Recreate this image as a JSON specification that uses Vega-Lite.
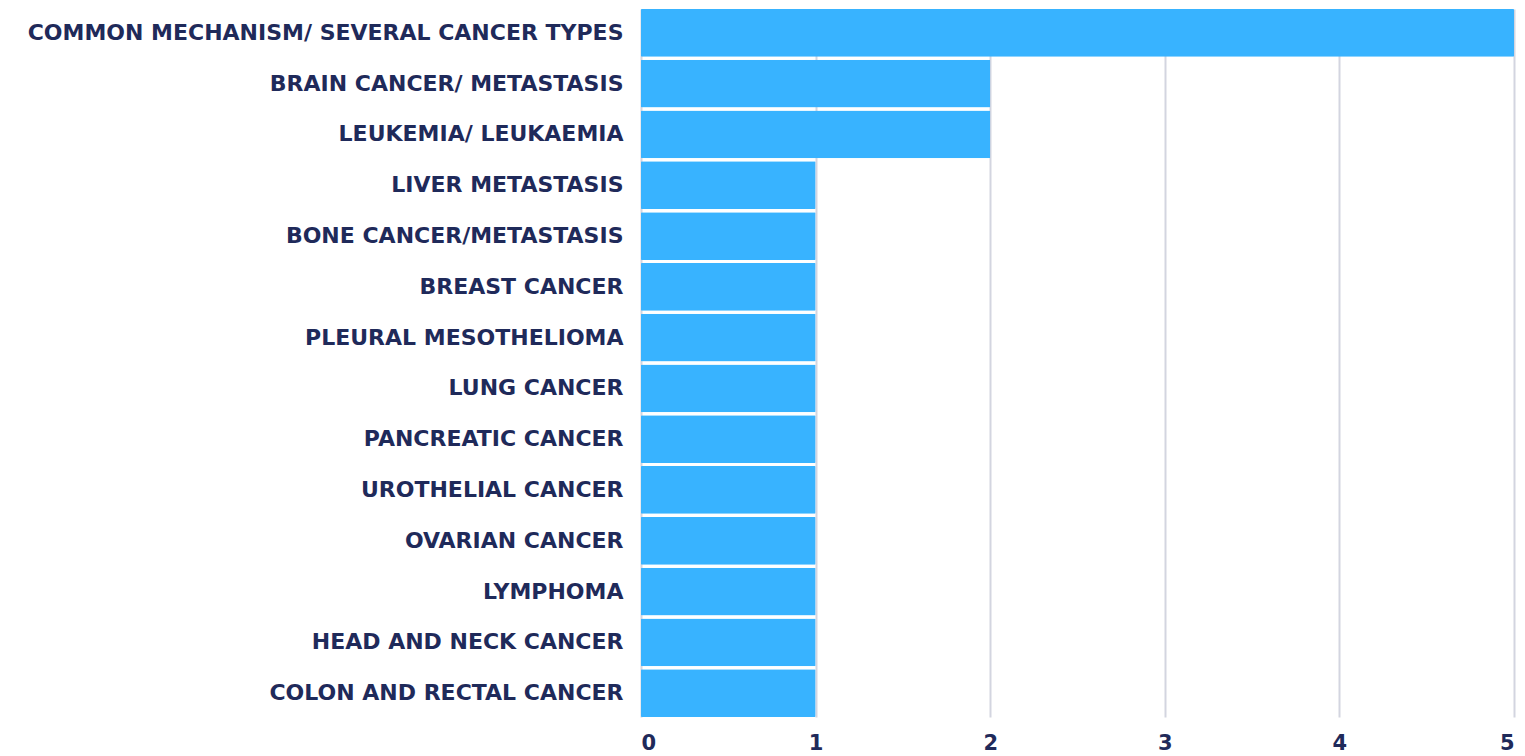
{
  "$schema": "https://vega.github.io/schema/vega-lite/v6.json",
  "width": 873,
  "height": 708,
  "autosize": {"type": "none"},
  "padding": {"left": 641, "top": 9, "right": 11, "bottom": 39},
  "background": "white",
  "data": {"values": [
    {"category": "COMMON MECHANISM/ SEVERAL CANCER TYPES", "count": 5},
    {"category": "BRAIN CANCER/ METASTASIS", "count": 2},
    {"category": "LEUKEMIA/ LEUKAEMIA", "count": 2},
    {"category": "LIVER METASTASIS", "count": 1},
    {"category": "BONE CANCER/METASTASIS", "count": 1},
    {"category": "BREAST CANCER", "count": 1},
    {"category": "PLEURAL MESOTHELIOMA", "count": 1},
    {"category": "LUNG CANCER", "count": 1},
    {"category": "PANCREATIC CANCER", "count": 1},
    {"category": "UROTHELIAL CANCER", "count": 1},
    {"category": "OVARIAN CANCER", "count": 1},
    {"category": "LYMPHOMA", "count": 1},
    {"category": "HEAD AND NECK CANCER", "count": 1},
    {"category": "COLON AND RECTAL CANCER", "count": 1}
  ]},
  "mark": {"type": "bar", "color": "#38b3ff", "cornerRadius": 1},
  "encoding": {
    "y": {
      "field": "category", "type": "nominal", "sort": null,
      "scale": {"paddingInner": 0.06, "paddingOuter": 0.0},
      "axis": {"title": null, "domain": false, "ticks": false, "grid": false,
        "labelFont": "DejaVu Sans", "labelFontSize": 22, "labelFontWeight": "bold",
        "labelColor": "#1f2a5a", "labelPadding": 18, "labelLimit": 700}
    },
    "x": {
      "field": "count", "type": "quantitative",
      "scale": {"domain": [0, 5], "nice": false},
      "axis": {"title": null, "domain": false, "ticks": false, "values": [0,1,2,3,4,5],
        "grid": true, "gridColor": "#d3d5e0", "gridWidth": 2,
        "labelFont": "DejaVu Sans", "labelFontSize": 21, "labelFontWeight": "bold",
        "labelColor": "#1f2a5a", "labelPadding": 15, "format": "d"}
    }
  },
  "config": {"view": {"stroke": null}}
}
